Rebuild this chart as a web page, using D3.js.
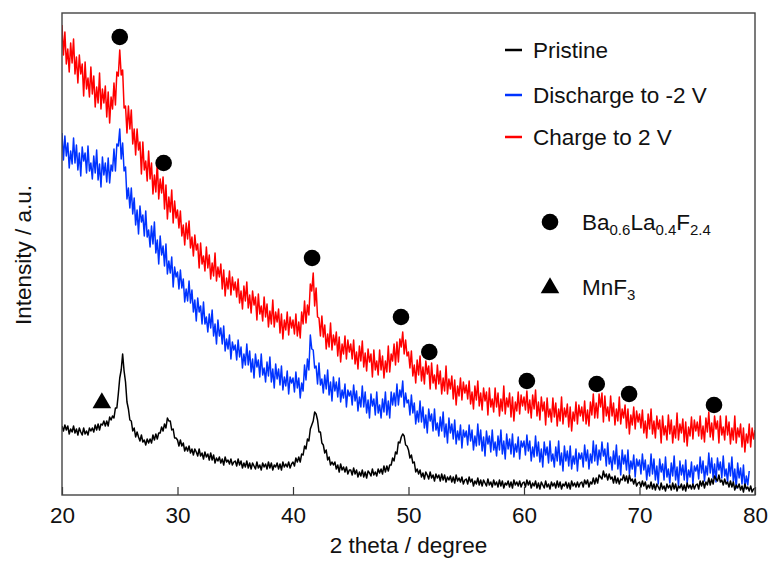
<!DOCTYPE html>
<html><head><meta charset="utf-8">
<script src="https://cdn.jsdelivr.net/npm/d3@7"></script>
<style>
body{margin:0;background:#fff;}
text{font-family:"Liberation Sans",Arial,sans-serif;fill:#111;}
</style></head>
<body><svg id="c" width="769" height="563"></svg>
<script>
const thetaStart = 20;
const thetaStep = 0.125;
const pristine = [69,64,70,65,69,61,66,63,69,62,66,60,67,63,60,67,61,64,60,67,64,67,63,70,65,71,65,71,70,74,69,74,69,78,75,79,77,87,87,101,
117,125,141,124,113,93,86,75,74,64,67,58,63,58,54,60,53,55,50,56,52,56,52,60,55,61,56,62,62,68,64,71,67,77,74,74,65,66,57,57,
55,49,55,49,52,44,48,44,49,42,46,40,46,43,39,46,39,42,36,43,38,41,35,42,35,40,32,37,34,38,32,36,30,38,33,35,31,36,30,33,
34,29,36,30,34,27,32,28,34,27,32,26,32,29,26,33,27,30,25,32,28,31,26,33,27,32,25,30,28,32,26,31,25,33,28,31,28,33,27,31,
33,29,37,33,38,33,41,40,49,46,56,54,66,70,74,83,81,75,63,63,52,50,42,45,35,38,30,33,30,33,26,30,23,31,25,28,23,28,21,25,
25,20,27,21,25,18,23,19,25,18,23,17,24,22,19,26,20,23,19,26,22,26,21,29,23,29,24,30,30,37,34,43,41,53,52,58,61,59,50,49,
45,37,40,32,33,23,26,21,25,18,22,16,23,20,16,23,17,20,14,21,17,20,14,21,15,20,13,18,15,19,13,18,12,20,14,17,13,18,11,15,
16,11,18,13,16,9,14,11,17,10,15,9,15,12,9,16,10,13,8,15,10,13,8,15,9,14,7,12,10,14,8,13,7,15,10,13,9,14,8,12,
13,8,15,10,14,7,12,9,14,7,12,6,13,10,7,14,8,11,6,13,9,12,7,14,8,13,6,11,9,13,7,12,6,14,9,12,8,13,8,12,
13,8,15,11,15,8,13,11,17,11,17,12,20,18,16,24,18,21,15,21,16,18,12,19,12,17,11,16,15,20,14,19,12,20,14,16,11,16,9,12,
13,8,14,9,13,6,10,7,13,6,11,5,11,8,5,12,6,9,4,11,7,10,5,12,6,11,4,9,7,11,5,10,4,12,7,10,6,11,6,10,
11,6,14,9,14,7,13,10,17,10,16,11,19,16,14,20,13,15,10,16,11,13,8,14,8,13,5,10,7,11,5,9,3,11,6,8,4,9,3,6,7];
const discharge = [362,335,359,339,352,327,344,331,357,332,350,325,342,319,348,334,342,322,349,324,332,316,339,322,345,315,331,308,338,320,332,313,337,312,330,324,346,324,351,349,366,336,352,324,328,296,307,287,307,
281,297,270,285,261,289,273,280,259,284,258,265,248,269,251,273,242,255,231,259,240,249,229,251,221,234,222,238,208,228,218,223,
206,225,207,216,193,206,194,214,192,205,183,195,174,197,183,189,171,193,171,178,163,181,167,185,159,171,151,175,159,167,151,169,144,156,146,160,136,153,145,150,
135,155,138,148,127,141,130,151,130,144,123,136,117,141,128,135,118,141,120,127,113,133,119,138,113,126,107,131,116,126,110,129,105,118,109,124,101,118,112,117,
103,123,107,117,97,112,104,130,115,136,125,160,146,145,127,129,111,132,110,116,102,120,106,125,100,113,94,118,104,113,98,117,93,105,97,111,88,105,99,104,
90,110,94,104,84,98,88,109,88,103,82,95,77,101,89,96,80,103,82,90,77,96,83,103,80,94,77,103,90,102,89,111,90,105,98,114,88,102,92,95,
80,100,82,92,71,84,73,94,73,88,67,80,62,86,74,81,64,86,65,72,59,78,64,83,58,71,52,77,62,71,56,75,51,64,55,70,47,65,58,64,
50,70,54,65,45,59,49,71,50,65,44,58,39,64,51,59,43,65,45,53,39,59,45,65,41,54,36,61,46,56,41,61,38,51,43,58,36,54,48,54,
40,60,44,54,34,48,38,59,39,53,33,46,28,53,40,48,32,54,34,41,28,48,34,54,30,42,24,49,34,44,29,49,26,39,31,46,24,42,36,42,
28,50,34,45,26,41,32,54,34,50,30,45,35,53,39,46,29,52,31,38,25,44,31,50,26,39,20,45,31,40,25,45,21,34,26,40,18,36,29,35,
21,41,25,35,15,30,19,41,21,36,15,29,11,36,23,31,15,38,18,26,12,32,19,39,15,28,9,34,20,30,15,35,12,25,18,33,11,29,24,30,
16,38,22,34,14,29,20,42,22,37,17,31,13,37,25,33,17,39,19,26,13,32,19,38,13,26,7,32,17,27,11,30,7,19,10,24,null,null,null,null];
const charge = [470,440,463,431,446,423,452,432,456,421,438,412,440,421,431,399,433,406,417,398,428,401,419,388,408,392,422,386,406,392,409,378,403,372,398,386,412,390,423,419,445,420,425,387,389,362,389,366,385,
351,366,340,366,345,353,321,353,325,334,314,344,316,332,301,320,303,333,296,316,302,318,286,310,276,298,283,305,272,294,277,285,
267,284,259,270,250,272,256,274,247,258,239,260,245,251,227,252,231,239,224,248,227,240,216,232,219,242,214,228,218,231,206,225,199,217,206,224,200,218,205,213,
198,216,192,204,186,209,194,213,187,200,182,204,190,198,175,201,181,189,174,198,178,191,168,184,171,195,168,183,173,186,162,181,156,175,165,183,160,178,167,175,
161,181,159,173,157,183,171,194,172,190,180,211,204,222,189,207,178,177,159,179,158,170,146,161,148,172,145,160,150,163,139,158,133,151,141,159,136,155,143,151,
136,155,131,143,126,149,134,154,128,142,124,146,133,141,118,145,125,134,120,145,125,139,117,134,123,149,123,141,134,151,130,153,133,156,148,163,141,155,139,143,
127,144,119,130,112,135,120,139,114,128,111,134,121,129,106,132,112,120,106,130,111,124,101,117,104,129,101,116,106,119,96,115,90,109,99,117,95,113,102,110,
96,114,91,103,86,109,95,114,89,102,85,107,94,103,80,107,88,96,83,107,88,102,79,96,84,109,81,97,88,102,78,98,74,93,84,103,81,100,89,98,
85,104,82,95,77,100,86,105,79,93,75,98,84,93,70,97,78,86,73,97,78,92,69,86,74,98,71,87,78,91,68,88,64,83,74,93,71,90,79,88,
74,94,71,85,69,93,80,101,77,92,77,101,88,102,73,99,79,88,74,99,79,92,70,86,74,98,71,86,77,90,67,86,61,80,70,88,66,84,73,81,
67,85,62,74,57,81,66,86,61,74,57,79,66,75,52,79,60,69,55,80,61,75,52,69,57,82,55,71,62,76,53,73,49,68,59,78,56,75,64,73,
59,79,56,69,53,77,63,83,58,72,55,79,66,74,52,79,60,68,55,79,60,73,51,67,55,79,52,67,58,71,48,67,43,61,52,71,48,67,56,65];
const seriesNames = ["Pristine","Discharge to -2 V","Charge to 2 V"];
const seriesColors = ["#000000","#0033ff","#ff0000"];
const xTicks = [20,30,40,50,60,70,80];
// phase annotation markers (theta, level)
const circleTheta = [25.0,28.8,41.65,49.35,51.8,60.25,66.3,69.1,76.45];
const circleLevel = [458,332,237,178,143,114,111,101,90];
const triangleTheta = [23.45];
const triangleLevel = [93];

const svg = d3.select("#c");
const L=62,R=755,T=13,B=495;
const x = d3.scaleLinear().domain([20,80]).range([L,R]);
const y = d3.scaleLinear().domain([0,482]).range([B,T]);

svg.append("clipPath").attr("id","pc").append("rect").attr("x",L).attr("y",T).attr("width",R-L).attr("height",B-T);
const g = svg.append("g");
const data = [pristine, discharge, charge];
const line = d3.line().defined(d=>d!=null).x((d,i)=>x(thetaStart+i*thetaStep)).y(d=>y(d));
[2,1,0].forEach(k=>{
  g.append("path").attr("d",line(data[k])).attr("fill","none")
   .attr("stroke",seriesColors[k]).attr("stroke-width",1.5).attr("stroke-linejoin","round").attr("clip-path","url(#pc)");
});

const ax = svg.append("g").attr("transform",`translate(0,${B})`)
  .call(d3.axisBottom(x).tickValues(xTicks).tickSizeInner(-8).tickSizeOuter(0).tickPadding(12));
ax.select(".domain").remove();
ax.selectAll("line").attr("stroke","#333").attr("stroke-width",1.2);
ax.selectAll("text").attr("font-size","22.5px").attr("fill","#111").style("font-family","Liberation Sans, Arial, sans-serif");

svg.append("rect").attr("x",L).attr("y",T).attr("width",R-L).attr("height",B-T)
  .attr("fill","none").attr("stroke","#444").attr("stroke-width",1.4);

svg.append("text").attr("x",(L+R)/2).attr("y",553).attr("text-anchor","middle").attr("font-size","22.5px").text("2 theta / degree");
svg.append("text").attr("transform","translate(31,255) rotate(-90)").attr("text-anchor","middle").attr("font-size","22.5px").text("Intensity / a.u.");

g.selectAll("circle.m").data(circleTheta).enter().append("circle")
  .attr("cx",d=>x(d)).attr("cy",(d,i)=>y(circleLevel[i])).attr("r",8.3).attr("fill","#000");
const tri = d3.symbol().type(d3.symbolTriangle).size(150);
g.selectAll("path.t").data(triangleTheta).enter().append("path")
  .attr("d",tri).attr("transform",(d,i)=>`translate(${x(d)},${y(triangleLevel[i])+1})`).attr("fill","#000");

const ly=[50,95,137];
seriesNames.forEach((n,i)=>{
  svg.append("line").attr("x1",505).attr("x2",522).attr("y1",ly[i]).attr("y2",ly[i]).attr("stroke",seriesColors[i]).attr("stroke-width",2.5);
  svg.append("text").attr("x",533).attr("y",ly[i]+8).attr("font-size","22.5px").text(n);
});
svg.append("circle").attr("cx",550).attr("cy",222).attr("r",8.3).attr("fill","#000");
const t1 = svg.append("text").attr("x",582).attr("y",230).attr("font-size","22.5px");
t1.append("tspan").text("Ba");
t1.append("tspan").attr("font-size","15px").attr("dy",5).text("0.6");
t1.append("tspan").attr("dy",-5).text("La");
t1.append("tspan").attr("font-size","15px").attr("dy",5).text("0.4");
t1.append("tspan").attr("dy",-5).text("F");
t1.append("tspan").attr("font-size","15px").attr("dy",5).text("2.4");
svg.append("path").attr("d",tri).attr("transform","translate(550,288)").attr("fill","#000");
const t2 = svg.append("text").attr("x",582).attr("y",295).attr("font-size","22.5px");
t2.append("tspan").text("MnF");
t2.append("tspan").attr("font-size","15px").attr("dy",5).text("3");
</script></body></html>
